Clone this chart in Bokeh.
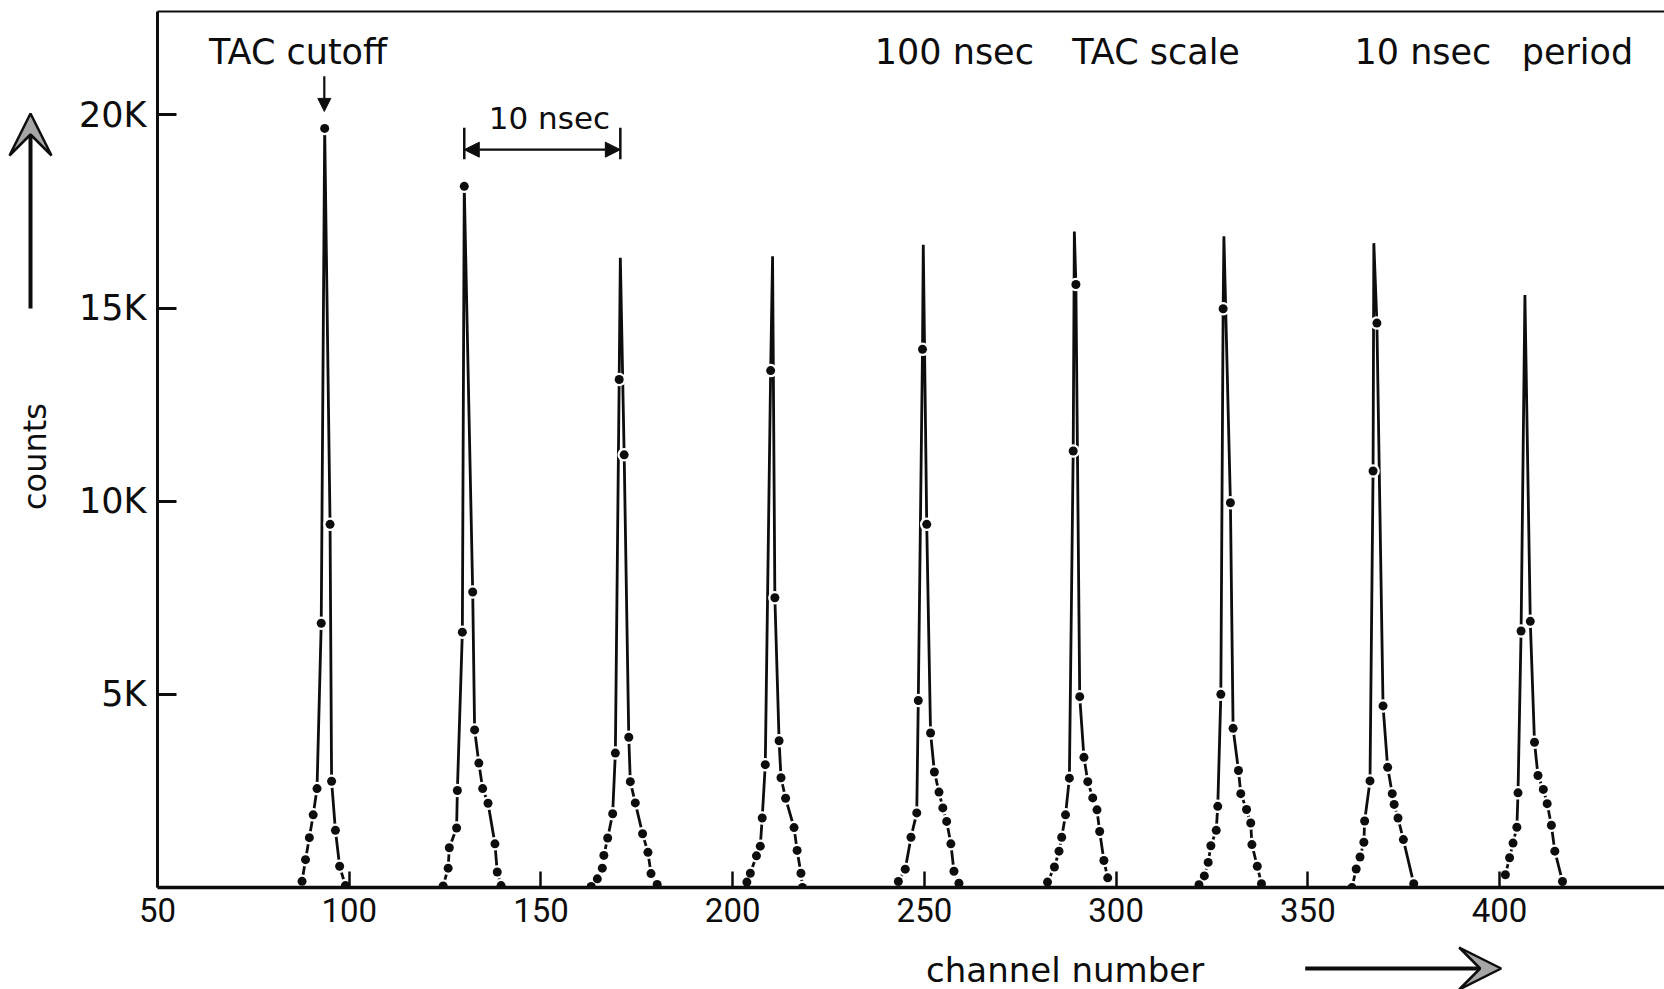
import math
from bokeh.plotting import figure
from bokeh.layouts import row, column
from bokeh.models import (FixedTicker, LinearAxis, Label, Arrow, NormalHead, VeeHead, Range1d)
from bokeh.embed import file_html
from bokeh.resources import INLINE

# ---- data: (channel, counts) for each peak, in drawing order ----
peak1_ch = [87.7, 88.6, 89.6, 90.6, 91.6, 92.7, 93.6, 95.0, 95.4, 96.4, 97.5, 99.0]
peak1_ct = [160, 720, 1290, 1880, 2560, 6840, 19650, 9400, 2750, 1480, 550, 50]

peak2_ch = [124.5, 125.8, 126.1, 128.0, 128.2, 129.5, 130.0, 132.2, 132.7, 133.8, 134.8, 136.2, 138.0, 138.6, 139.6]
peak2_ct = [40, 500, 1030, 1540, 2510, 6610, 18150, 7650, 4080, 3220, 2560, 2180, 1130, 400, 50]

peak3_ch = [163.1, 164.7, 166.0, 166.4, 167.4, 168.7, 169.4, 170.4, 170.7, 171.7, 172.9, 173.3, 174.6, 176.5, 177.9, 178.7, 180.3]
peak3_ct = [25, 225, 500, 830, 1280, 1910, 3480, 13150, 16300, 11200, 3890, 2740, 2190, 1390, 910, 360, 80]

peak4_ch = [203.7, 204.6, 206.2, 207.2, 207.7, 208.5, 209.9, 210.4, 211.0, 212.1, 212.6, 213.8, 216.0, 216.8, 217.8, 218.2]
peak4_ct = [140, 370, 820, 1070, 1800, 3180, 13380, 16340, 7500, 3800, 2840, 2310, 1550, 960, 370, 0]

peak5_ch = [243.2, 245.0, 246.5, 248.0, 248.4, 249.5, 249.7, 250.6, 251.6, 252.6, 253.8, 254.8, 255.8, 256.9, 257.7, 259.0]
peak5_ct = [155, 475, 1300, 1930, 4840, 13930, 16640, 9400, 4000, 2990, 2470, 2060, 1710, 1130, 420, 110]

peak6_ch = [282.1, 283.9, 285.1, 285.8, 286.8, 287.8, 288.8, 289.1, 289.5, 290.5, 291.6, 292.6, 293.9, 295.0, 295.7, 296.8, 297.8]
peak6_ct = [140, 530, 940, 1300, 1880, 2830, 11300, 16980, 15610, 4940, 3370, 2740, 2320, 2010, 1450, 700, 250]

peak7_ch = [321.6, 323.0, 324.0, 324.7, 326.1, 326.5, 327.3, 327.9, 328.1, 329.8, 330.5, 331.9, 332.5, 334.0, 335.1, 335.4, 336.8, 337.9]
peak7_ct = [70, 300, 650, 1080, 1480, 2100, 5000, 14980, 16860, 9960, 4120, 3030, 2430, 2020, 1670, 1110, 550, 100]

peak8_ch = [361.5, 362.6, 363.6, 364.6, 364.8, 366.2, 367.0, 367.2, 368.0, 369.6, 370.8, 372.0, 372.5, 373.5, 374.9, 377.6]
peak8_ct = [0, 480, 790, 1170, 1720, 2760, 10780, 16680, 14610, 4700, 3110, 2430, 2150, 1800, 1240, 100]

peak9_ch = [401.5, 402.6, 403.5, 404.5, 404.8, 405.6, 406.6, 408.0, 409.1, 410.0, 411.4, 412.4, 413.5, 414.4, 416.4]
peak9_ct = [330, 770, 1150, 1560, 2450, 6640, 15340, 6890, 3760, 2900, 2540, 2170, 1610, 940, 155]

# peaks whose top value carries a dot (the others end in a bare spike)
dotted_tops = [True, True, False, False, False, False, False, False, False]

x_ticks = [50, 100, 150, 200, 250, 300, 350, 400]
y_ticks = [5000, 10000, 15000, 20000]
y_tick_labels = ["5K", "10K", "15K", "20K"]

peaks = [(peak1_ch, peak1_ct), (peak2_ch, peak2_ct), (peak3_ch, peak3_ct),
         (peak4_ch, peak4_ct), (peak5_ch, peak5_ct), (peak6_ch, peak6_ct),
         (peak7_ch, peak7_ct), (peak8_ch, peak8_ct), (peak9_ch, peak9_ct)]

FONT = "DejaVu Sans"
TICKFONT = "Roboto"
INK = "#0d0d0d"
HEADFILL = "#a6a6a6"

STRIP_W = 60
MAIN_W = 1664 - STRIP_W
MAIN_H = 940
BOT_H = 989 - MAIN_H

x_range = Range1d(50, 443)

# ---------------- main plot ----------------
p = figure(width=MAIN_W, height=MAIN_H, x_range=x_range, y_range=Range1d(0, 22676),
           output_backend="svg", toolbar_location=None, tools="",
           min_border_left=157 - STRIP_W, min_border_right=0, min_border_top=11,
           min_border_bottom=MAIN_H - 887, outline_line_color=None,
           background_fill_color="white", border_fill_color="white")
p.grid.visible = False

xa = p.xaxis[0]
xa.ticker = FixedTicker(ticks=x_ticks)
xa.axis_line_width = 3.5
xa.axis_line_color = INK
xa.major_tick_in = 16
xa.major_tick_out = 0
xa.major_tick_line_width = 2.5
xa.major_tick_line_color = INK
xa.minor_tick_line_color = None
xa.major_label_text_font = TICKFONT
xa.major_label_text_font_size = "33px"
xa.major_label_text_color = INK
xa.major_label_standoff = 10

ya = p.yaxis[0]
ya.ticker = FixedTicker(ticks=y_ticks)
ya.major_label_overrides = {t: s for t, s in zip(y_ticks, y_tick_labels)}
ya.axis_line_width = 3
ya.axis_line_color = INK
ya.major_tick_in = 19
ya.major_tick_out = 0
ya.major_tick_line_width = 3
ya.major_tick_line_color = INK
ya.minor_tick_line_color = None
ya.major_label_text_font = FONT
ya.major_label_text_font_size = "35px"
ya.major_label_text_color = INK
ya.major_label_standoff = 11

top = LinearAxis(ticker=FixedTicker(ticks=[]), axis_line_width=2, axis_line_color=INK,
                 major_tick_line_color=None, minor_tick_line_color=None,
                 major_label_text_font_size="0px")
p.add_layout(top, "above")

for (chs, cts), dotted in zip(peaks, dotted_tops):
    p.line(chs, cts, line_width=2.8, line_color=INK)
    top_i = cts.index(max(cts))
    mx = [c for i, c in enumerate(chs) if dotted or i != top_i]
    my = [c for i, c in enumerate(cts) if dotted or i != top_i]
    p.scatter(mx, my, size=13.5, fill_color="white", line_color=None)
    p.scatter(mx, my, size=9, fill_color=INK, line_color=None)

def lab(fig, x, y, txt, size="35px", angle=0.0):
    fig.add_layout(Label(x=x, y=y, text=txt, text_font=FONT, text_font_size=size,
                         text_color=INK, text_align="center", text_baseline="middle",
                         angle=angle))

lab(p, 88.1, 21640, "TAC  cutoff")
lab(p, 257.8, 21640, "100 nsec")
lab(p, 310.4, 21640, "TAC scale")
lab(p, 380.0, 21640, "10 nsec")
lab(p, 420.3, 21640, "period")
lab(p, 152.2, 19930, "10 nsec", size="31px")

p.add_layout(Arrow(x_start=93.5, y_start=21000, x_end=93.5, y_end=20090,
                   line_width=2.2, line_color=INK,
                   end=NormalHead(size=13, fill_color=INK, line_color=INK)))
for xb in (130.0, 170.7):
    p.add_layout(Arrow(x_start=xb, y_start=19670, x_end=xb, y_end=18850,
                       line_width=2.5, line_color=INK, end=None))
p.add_layout(Arrow(x_start=130.0, y_start=19100, x_end=170.7, y_end=19100,
                   line_width=2.2, line_color=INK,
                   start=NormalHead(size=15, fill_color=INK, line_color=INK),
                   end=NormalHead(size=15, fill_color=INK, line_color=INK)))

# ---------------- left strip: y-direction arrow and "counts" ----------------
left = figure(width=STRIP_W, height=989, x_range=Range1d(0, STRIP_W), y_range=Range1d(989, 0),
              output_backend="svg", toolbar_location=None, tools="",
              x_axis_type=None, y_axis_type=None, min_border=0,
              outline_line_color=None, background_fill_color="white", border_fill_color="white")
left.grid.visible = False
left.add_layout(Arrow(x_start=30, y_start=308, x_end=30, y_end=113,
                      line_width=4, line_color=INK,
                      end=VeeHead(size=42, fill_color=HEADFILL, line_color=INK, line_width=2.5)))
lab(left, 34, 456, "counts", size="32px", angle=math.pi / 2)

# ---------------- bottom strip: "channel number" and x-direction arrow ----------------
bot = figure(width=MAIN_W, height=BOT_H, x_range=x_range, y_range=Range1d(BOT_H, 0),
             output_backend="svg", toolbar_location=None, tools="",
             x_axis_type=None, y_axis_type=None,
             min_border_left=157 - STRIP_W, min_border_right=0, min_border_top=0, min_border_bottom=0,
             outline_line_color=None, background_fill_color="white", border_fill_color="white")
bot.grid.visible = False
lab(bot, 288.1, 29, "channel  number", size="34px")
bot.add_layout(Arrow(x_start=349.3, y_start=28, x_end=400.4, y_end=28,
                     line_width=4, line_color=INK,
                     end=VeeHead(size=42, fill_color=HEADFILL, line_color=INK, line_width=2.5)))

layout = row(left, column(p, bot, spacing=0), spacing=0)
open("out.html", "w").write(file_html(layout, INLINE))
